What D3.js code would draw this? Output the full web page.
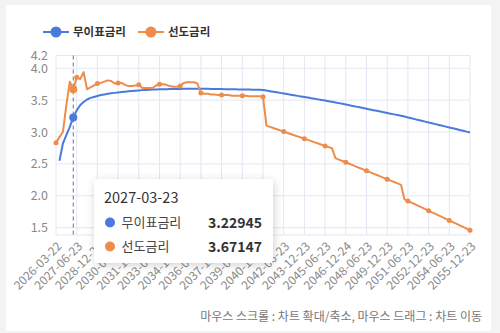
<!DOCTYPE html>
<html>
<head>
<meta charset="utf-8">
<script src="https://cdn.jsdelivr.net/npm/d3@7"></script>
<style>
body { margin: 0; background: #f3f3f3; font-family: "Noto Sans CJK KR", "Noto Sans", sans-serif; }
svg { display: block; }
</style>
</head>
<body>
<div id="chart"></div>
<script>
// tenor dates (category axis)
var dates = [
    "2026-03-22",
    "2026-03-23", "2026-06-23", "2026-09-23", "2026-12-23",
    "2027-03-23", "2027-06-23", "2027-09-23", "2027-12-23",
    "2028-03-23", "2028-06-23", "2028-09-23", "2028-12-23",
    "2029-03-23", "2029-06-23", "2029-09-23", "2029-12-23",
    "2030-03-23", "2030-06-23", "2030-09-23", "2030-12-23",
    "2031-03-23", "2031-06-23", "2031-09-23", "2031-12-23",
    "2032-03-23", "2032-06-23", "2032-09-23", "2032-12-23",
    "2033-03-23", "2033-06-23", "2033-09-23", "2033-12-23",
    "2034-03-23", "2034-06-23", "2034-09-23", "2034-12-23",
    "2035-03-23", "2035-06-23", "2035-09-23", "2035-12-23",
    "2036-03-23", "2036-06-23", "2036-09-23", "2036-12-23",
    "2037-03-23", "2037-06-23", "2037-09-23", "2037-12-23",
    "2038-03-23", "2038-06-23", "2038-09-23", "2038-12-23",
    "2039-03-23", "2039-06-23", "2039-09-23", "2039-12-23",
    "2040-03-23", "2040-06-23", "2040-09-23", "2040-12-23",
    "2041-03-23", "2041-06-23", "2041-09-23", "2041-12-23",
    "2042-03-23", "2042-06-23", "2042-09-23", "2042-12-23",
    "2043-03-23", "2043-06-23", "2043-09-23", "2043-12-23",
    "2044-03-23", "2044-06-23", "2044-09-23", "2044-12-23",
    "2045-03-23", "2045-06-23", "2045-09-23", "2045-12-23",
    "2046-03-23", "2046-06-23", "2046-09-23", "2046-12-24",
    "2047-03-23", "2047-06-23", "2047-09-23", "2047-12-23",
    "2048-03-23", "2048-06-23", "2048-09-23", "2048-12-23",
    "2049-03-23", "2049-06-23", "2049-09-23", "2049-12-23",
    "2050-03-23", "2050-06-23", "2050-09-23", "2050-12-23",
    "2051-03-23", "2051-06-23", "2051-09-23", "2051-12-23",
    "2052-03-23", "2052-06-23", "2052-09-23", "2052-12-23",
    "2053-03-23", "2053-06-23", "2053-09-23", "2053-12-23",
    "2054-03-23", "2054-06-23", "2054-09-23", "2054-12-23",
    "2055-03-23", "2055-06-23", "2055-09-23", "2055-12-23"
];

// 무이표금리
var zeroRates = [
    null, 2.55, 2.82, 2.95, 3.08, 3.22945, 3.34, 3.42, 3.47, 3.51,
    3.535, 3.55, 3.565, 3.58, 3.59, 3.60, 3.607, 3.614, 3.62, 3.627,
    3.633, 3.638, 3.643, 3.648, 3.653, 3.657, 3.66, 3.663, 3.666, 3.668,
    3.67, 3.671, 3.672, 3.673, 3.674, 3.675, 3.676, 3.677, 3.678, 3.679,
    3.68, 3.68, 3.679, 3.678, 3.677, 3.676, 3.675, 3.674, 3.673, 3.672,
    3.671, 3.67, 3.669, 3.668, 3.667, 3.666, 3.665, 3.664, 3.663, 3.662,
    3.66,
    3.651, 3.641, 3.632, 3.623, 3.614, 3.604, 3.595, 3.586, 3.577, 3.567,
    3.558, 3.549, 3.540, 3.530, 3.521, 3.512, 3.502, 3.493, 3.484, 3.475,
    3.464, 3.453, 3.442, 3.431, 3.420, 3.409, 3.398, 3.387, 3.376, 3.365,
    3.354, 3.343, 3.332, 3.321, 3.310, 3.299, 3.288, 3.277, 3.266, 3.255,
    3.242, 3.229, 3.215, 3.202, 3.189, 3.176, 3.163, 3.150, 3.137, 3.124,
    3.111, 3.098, 3.085, 3.072, 3.059, 3.046, 3.033, 3.020, 3.006, 2.993
];

// 선도금리
var fwdRates = [
    2.83, 2.92, 3.00, 3.42, 3.79, 3.67147, 3.86, 3.83, 3.94, 3.67,
    3.70, 3.73, 3.76, 3.77, 3.79, 3.81, 3.80, 3.76, 3.77, 3.77,
    3.74, 3.72, 3.72, 3.73, 3.74, 3.69, 3.69, 3.69, 3.69, 3.73,
    3.75, 3.75, 3.74, 3.72, 3.71, 3.71, 3.72, 3.77, 3.78, 3.78,
    3.78, 3.76, 3.61, 3.60, 3.60, 3.59, 3.59, 3.58, 3.58, 3.58,
    3.58, 3.57, 3.57, 3.57, 3.57, 3.57, 3.56, 3.56, 3.56, 3.56,
    3.555,
    3.100, 3.081, 3.063, 3.044, 3.025, 3.007, 2.988, 2.969, 2.950, 2.932,
    2.913, 2.894, 2.876, 2.857, 2.838, 2.820, 2.801, 2.782, 2.763, 2.745,
    2.590, 2.568, 2.546, 2.524, 2.502, 2.480, 2.458, 2.436, 2.414, 2.392,
    2.370, 2.348, 2.326, 2.304, 2.282, 2.260, 2.238, 2.216, 2.194, 2.172,
    1.945, 1.920, 1.894, 1.869, 1.843, 1.818, 1.792, 1.767, 1.741, 1.716,
    1.690, 1.665, 1.639, 1.614, 1.588, 1.563, 1.537, 1.512, 1.486, 1.461
];

var seriesNames = ["무이표금리", "선도금리"];
var seriesColors = ["#4a7bdc", "#ee8c4b"];
var yTicks = [1.5, 2.0, 2.5, 3.0, 3.5, 4.0, 4.2];
var yDomain = [1.385, 4.2];
var labelEvery = 6;
var hoverIndex = 5;
var caption = "마우스 스크롤 : 차트 확대/축소, 마우스 드래그 : 차트 이동";

RateChart = function(parentElement) {
    var vis = this;
    vis.parentElement = parentElement;
    vis.initVis();
}

RateChart.prototype.initVis = function() {
    var vis = this;

    vis.margin = {top: 55.5, bottom: 98, left: 56, right: 30};
    vis.width = 500 - vis.margin.left - vis.margin.right;
    vis.height = 333 - vis.margin.top - vis.margin.bottom;

    vis.root = d3.select("#" + vis.parentElement)
        .append("svg")
        .attr("width", 500)
        .attr("height", 333);

    var defs = vis.root.append("defs");
    defs.append("filter")
        .attr("id", "shadow")
        .attr("x", "-20%").attr("y", "-20%")
        .attr("width", "140%").attr("height", "150%")
        .append("feDropShadow")
        .attr("dx", 1).attr("dy", 2)
        .attr("stdDeviation", 4)
        .attr("flood-color", "#000")
        .attr("flood-opacity", 0.18);

    // white card
    vis.root.append("rect")
        .attr("x", 6).attr("y", 5)
        .attr("width", 485).attr("height", 326)
        .attr("fill", "#fff");

    vis.svg = vis.root.append("g")
        .attr("transform", "translate(" + vis.margin.left + "," + vis.margin.top + ")");

    vis.x = d3.scalePoint().domain(dates).range([0, vis.width]);
    vis.y = d3.scaleLinear().domain(yDomain).range([vis.height, 0]);

    vis.labelDates = dates.filter((d, i) => i % labelEvery === 0);

    vis.updateVis();
}

RateChart.prototype.updateVis = function() {
    var vis = this;

    // grid
    vis.svg.append("g").selectAll("line.vgrid")
        .data(vis.labelDates)
        .enter().append("line")
        .attr("x1", d => vis.x(d)).attr("x2", d => vis.x(d))
        .attr("y1", 0).attr("y2", vis.height)
        .attr("stroke", "#e3e7f3").attr("stroke-width", 1);

    vis.svg.append("g").selectAll("line.hgrid")
        .data(yTicks)
        .enter().append("line")
        .attr("x1", 0).attr("x2", vis.width)
        .attr("y1", d => vis.y(d)).attr("y2", d => vis.y(d))
        .attr("stroke", "#e3e7f3").attr("stroke-width", 1);

    vis.svg.append("line")
        .attr("x1", 0).attr("x2", vis.width)
        .attr("y1", vis.height).attr("y2", vis.height)
        .attr("stroke", "#e3e7f3");

    // y axis
    vis.yAxis = d3.axisLeft(vis.y)
        .tickValues(yTicks)
        .tickSize(0)
        .tickPadding(8)
        .tickFormat(d3.format(".1f"));
    var ya = vis.svg.append("g").attr("class", "y-axis").call(vis.yAxis);
    ya.select(".domain").remove();
    ya.selectAll("text")
        .attr("fill", "#8a8a8a")
        .attr("font-size", 12.5)
        .attr("font-family", "Noto Sans CJK KR");

    // x axis
    vis.xAxis = d3.axisBottom(vis.x)
        .tickValues(vis.labelDates)
        .tickSize(0);
    var xa = vis.svg.append("g")
        .attr("class", "x-axis")
        .attr("transform", "translate(0," + vis.height + ")")
        .call(vis.xAxis);
    xa.select(".domain").remove();
    xa.selectAll("text")
        .attr("x", 0).attr("y", 0).attr("dy", "0.35em")
        .attr("transform", "translate(3,9) rotate(-45)")
        .style("text-anchor", "end")
        .attr("fill", "#8a8a8a")
        .attr("font-size", 12)
        .attr("font-family", "Noto Sans CJK KR");

    // lines
    var series = [zeroRates, fwdRates];
    series.forEach(function(vals, s) {
        var line = d3.line()
            .defined(d => d != null)
            .x((d, i) => vis.x(dates[i]))
            .y(d => vis.y(d));
        vis.svg.append("path")
            .datum(vals)
            .attr("fill", "none")
            .attr("stroke", seriesColors[s])
            .attr("stroke-width", 2)
            .attr("stroke-linejoin", "round")
            .attr("d", line);
    });

    // orange symbols at label positions
    vis.svg.append("g").selectAll("circle")
        .data(fwdRates.map((v, i) => ({v: v, i: i})).filter(d => d.i % labelEvery === 0))
        .enter().append("circle")
        .attr("cx", d => vis.x(dates[d.i]))
        .attr("cy", d => vis.y(d.v))
        .attr("r", 2.5)
        .attr("fill", seriesColors[1]);

    // axis pointer
    var hx = vis.x(dates[hoverIndex]);
    vis.svg.append("line")
        .attr("x1", hx).attr("x2", hx)
        .attr("y1", 0).attr("y2", vis.height)
        .attr("stroke", "#6e7383")
        .attr("stroke-width", 1)
        .attr("stroke-dasharray", "4,3");

    series.forEach(function(vals, s) {
        vis.svg.append("circle")
            .attr("cx", hx)
            .attr("cy", vis.y(vals[hoverIndex]))
            .attr("r", 4)
            .attr("fill", seriesColors[s]);
    });

    // legend
    var legend = vis.root.append("g").attr("transform", "translate(43,32)");
    var lx = 0;
    seriesNames.forEach(function(name, s) {
        var g = legend.append("g").attr("transform", "translate(" + lx + ",0)");
        g.append("line")
            .attr("x1", 0).attr("x2", 26)
            .attr("stroke", seriesColors[s]).attr("stroke-width", 2);
        g.append("circle")
            .attr("cx", 13).attr("r", 5.5)
            .attr("fill", seriesColors[s]);
        var t = g.append("text")
            .attr("x", 30).attr("dy", "0.36em")
            .attr("font-size", 11.5)
            .attr("font-weight", "bold")
            .attr("fill", "#333")
            .text(name);
        lx += 30 + t.node().getComputedTextLength() + 12;
    });

    // tooltip
    var tip = vis.root.append("g").attr("transform", "translate(94,179)");
    tip.append("rect")
        .attr("width", 179).attr("height", 84)
        .attr("rx", 4)
        .attr("fill", "#fff")
        .attr("filter", "url(#shadow)");
    tip.append("text")
        .attr("x", 10).attr("y", 23.5)
        .attr("font-size", 14.5)
        .attr("fill", "#333")
        .text(dates[hoverIndex]);
    series.forEach(function(vals, s) {
        var ry = 43.5 + s * 24;
        tip.append("circle")
            .attr("cx", 16).attr("cy", ry)
            .attr("r", 5)
            .attr("fill", seriesColors[s]);
        tip.append("text")
            .attr("x", 27.5).attr("y", ry).attr("dy", "0.36em")
            .attr("font-size", 13)
            .attr("fill", "#444")
            .text(seriesNames[s]);
        tip.append("text")
            .attr("x", 168).attr("y", ry).attr("dy", "0.36em")
            .attr("text-anchor", "end")
            .attr("font-size", 14)
            .attr("font-weight", "bold")
            .attr("fill", "#333")
            .text(vals[hoverIndex]);
    });

    // caption
    vis.root.append("text")
        .attr("x", 482).attr("y", 321)
        .attr("text-anchor", "end")
        .attr("font-size", 12)
        .attr("fill", "#777")
        .text(caption);
}

var chart = new RateChart("chart");
</script>
</body>
</html>
